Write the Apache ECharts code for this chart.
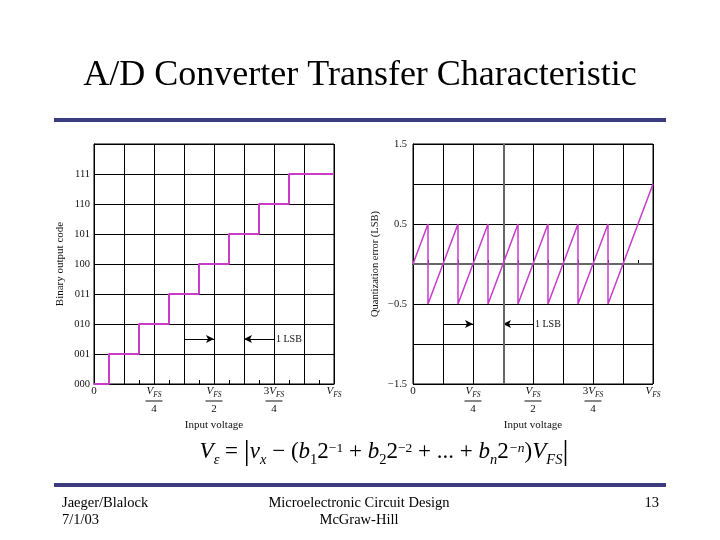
<!DOCTYPE html>
<html>
<head>
<meta charset="utf-8">
<script src="https://cdn.jsdelivr.net/npm/echarts@6/dist/echarts.min.js"></script>
<style>html,body{margin:0;padding:0;background:#fff;}#c{width:720px;height:540px;}</style>
</head>
<body>
<div id="c"></div>
<script>
// ---- data ----
const xTickValues = [0, 0.25, 0.5, 0.75, 1];
const xTickLabels = ['0', 'VFS/4', 'VFS/2', '3VFS/4', 'VFS'];
const codeLabels = ['000', '001', '010', '011', '100', '101', '110', '111'];
const codeStepX = [0, 0.0625, 0.1875, 0.3125, 0.4375, 0.5625, 0.6875, 0.8125, 1];
const codeValues = [0, 1, 2, 3, 4, 5, 6, 7, 7];
const errX = [0, 0.0625, 0.0625, 0.1875, 0.1875, 0.3125, 0.3125, 0.4375, 0.4375, 0.5625, 0.5625, 0.6875, 0.6875, 0.8125, 0.8125, 1];
const errY = [0, 0.5, -0.5, 0.5, -0.5, 0.5, -0.5, 0.5, -0.5, 0.5, -0.5, 0.5, -0.5, 0.5, -0.5, 1.0];
const errTickValues = [-1.5, -0.5, 0.5, 1.5];
const errTickLabels = ['\u22121.5', '\u22120.5', '0.5', '1.5'];
const codeLsbY = 1.5;
const codeLsbArrows = [[0.375, 0.5], [0.75, 0.625]];
const errLsbY = -0.75;
const errLsbArrows = [[0.125, 0.25], [0.5, 0.375]];
const lsbText = '1 LSB';
const errRefX = 0.375;
const errRefY = 0;

// ---- styling ----
const F = '"Liberation Serif", "Times New Roman", serif';
const MAG = '#c83cc8';
const NAVY = '#3b3b80';

const fracRich = {
  v: {fontFamily: F, fontStyle: 'italic', fontSize: 11, lineHeight: 13, verticalAlign: 'top', color: '#111'},
  s: {fontFamily: F, fontStyle: 'italic', fontSize: 7.5, lineHeight: 8, padding: [5, 0, 0, 0], verticalAlign: 'top', color: '#111'},
  n: {fontFamily: F, fontSize: 11, lineHeight: 13, verticalAlign: 'top', color: '#111'},
  bar: {fontSize: 1, width: 17, height: 1, lineHeight: 4, backgroundColor: '#111'},
  d: {fontFamily: F, fontSize: 11, lineHeight: 12, color: '#111'}
};
function xLabel(val) {
  const i = xTickValues.findIndex(t => Math.abs(t - val) < 1e-9);
  if (i < 0) return '';
  const lab = xTickLabels[i];
  if (lab === '0') return '{n|0}';
  const m = lab.match(/^(\d*)VFS(?:\/(\d+))?$/);
  const num = (m[1] ? '{n|' + m[1] + '}' : '') + '{v|V}{s|FS}';
  if (!m[2]) return num;
  return num + '\n{bar| }\n{d|' + m[2] + '}';
}

function xAxisCfg(idx) {
  return {
    type: 'value', gridIndex: idx, min: 0, max: 1, interval: 0.125,
    name: 'Input voltage', nameLocation: 'middle', nameGap: 36,
    nameTextStyle: {fontFamily: F, fontSize: 11, color: '#111'},
    axisLine: {lineStyle: {color: '#000', width: 1}},
    axisTick: {show: true, inside: true, length: 4, lineStyle: {color: '#000'}},
    minorTick: {show: true, splitNumber: 2, length: 4, lineStyle: {color: '#000'}},
    splitLine: {show: true, lineStyle: {color: '#000', width: 1}},
    axisLabel: {margin: 2, formatter: xLabel, rich: fracRich, showMinLabel: true, showMaxLabel: true, hideOverlap: false}
  };
}

function arrowData(pairs, y) {
  return pairs.map((p, i) => [
    Object.assign({coord: [p[0], y], symbol: 'none'},
      i === 1 ? {label: {show: true, position: 'start', formatter: lsbText, distance: 2,
        fontFamily: F, fontSize: 10, color: '#111'}} : {}),
    {coord: [p[1], y], symbol: 'arrow'}
  ]);
}

const chart = echarts.init(document.getElementById('c'), null, {renderer: 'canvas'});
chart.setOption({
  animation: false,
  backgroundColor: '#fff',
  title: {
    text: 'A/D Converter Transfer Characteristic', left: 'center', top: 53,
    textStyle: {fontFamily: F, fontSize: 36, fontWeight: 'normal', color: '#000'}
  },
  grid: [
    {left: 94, top: 144, width: 240, height: 240, show: true, borderColor: '#000', borderWidth: 1, backgroundColor: 'transparent'},
    {left: 413, top: 144, width: 240, height: 240, show: true, borderColor: '#000', borderWidth: 1, backgroundColor: 'transparent'}
  ],
  xAxis: [xAxisCfg(0), xAxisCfg(1)],
  yAxis: [
    {
      type: 'value', gridIndex: 0, min: 0, max: 8, interval: 1,
      name: 'Binary output code', nameLocation: 'middle', nameGap: 28,
      nameTextStyle: {fontFamily: F, fontSize: 11, color: '#111'},
      axisLine: {show: true, lineStyle: {color: '#000'}},
      axisTick: {show: false},
      splitLine: {show: true, lineStyle: {color: '#000', width: 1}},
      axisLabel: {margin: 4, fontFamily: F, fontSize: 10.5, color: '#111',
        formatter: v => (codeLabels[v] !== undefined ? codeLabels[v] : '')}
    },
    {
      type: 'value', gridIndex: 1, min: -1.5, max: 1.5, interval: 0.5,
      name: 'Quantization error (LSB)', nameLocation: 'middle', nameGap: 32,
      nameTextStyle: {fontFamily: F, fontSize: 10.5, color: '#111'},
      axisLine: {show: true, lineStyle: {color: '#000'}},
      axisTick: {show: false},
      splitLine: {show: true, lineStyle: {color: '#000', width: 1}},
      axisLabel: {margin: 6, fontFamily: F, fontSize: 10.5, color: '#111',
        formatter: v => {
          const i = errTickValues.findIndex(t => Math.abs(t - v) < 1e-9);
          return i < 0 ? '' : errTickLabels[i];
        }}
    }
  ],
  series: [
    {
      type: 'line', xAxisIndex: 0, yAxisIndex: 0, step: 'end', showSymbol: false,
      lineStyle: {color: MAG, width: 2}, z: 5,
      data: codeStepX.map((x, i) => [x, codeValues[i]]),
      markLine: {
        silent: true, symbolSize: [6, 8], animation: false,
        lineStyle: {color: '#000', width: 1, type: 'solid'},
        label: {show: false},
        data: arrowData(codeLsbArrows, codeLsbY)
      }
    },
    {
      type: 'line', xAxisIndex: 1, yAxisIndex: 1, showSymbol: false,
      lineStyle: {color: MAG, width: 1.5}, z: 5,
      data: errX.map((x, i) => [x, errY[i]]),
      markLine: {
        silent: true, symbolSize: [6, 8], animation: false,
        lineStyle: {color: '#000', width: 1, type: 'solid'},
        label: {show: false},
        data: arrowData(errLsbArrows, errLsbY)
      }
    },
    {
      type: 'line', xAxisIndex: 1, yAxisIndex: 1, data: [], z: 1,
      markLine: {
        silent: true, symbol: 'none', animation: false,
        lineStyle: {color: '#666', width: 2, type: 'solid'},
        label: {show: false},
        data: [{xAxis: errRefX}, {yAxis: errRefY}]
      }
    }
  ],
  graphic: [
    {type: 'rect', shape: {x: 54, y: 118, width: 612, height: 4}, style: {fill: NAVY}},
    {type: 'rect', shape: {x: 54, y: 483, width: 612, height: 4}, style: {fill: NAVY}},
    {
      type: 'text', x: 384, y: 452,
      style: {
        align: 'center', verticalAlign: 'middle', fill: '#000',
        text: '{i|V}{sub|\u03b5}{r| = }{bar||}{i|v}{sub|x}{r| \u2212 (}{i|b}{subr|1}{r|2}{sup|\u22121}{r| + }{i|b}{subr|2}{r|2}{sup|\u22122}{r| + ... + }{i|b}{sub|n}{r|2}{supi|\u2212n}{r|)}{i|V}{sub|FS}{bar||}',
        rich: {
          i: {fontFamily: F, fontStyle: 'italic', fontSize: 23, lineHeight: 32},
          r: {fontFamily: F, fontSize: 23, lineHeight: 32},
          sub: {fontFamily: F, fontStyle: 'italic', fontSize: 14.5, lineHeight: 15, verticalAlign: 'bottom'},
          subr: {fontFamily: F, fontSize: 14.5, lineHeight: 15, verticalAlign: 'bottom'},
          sup: {fontFamily: F, fontSize: 13.5, lineHeight: 14, padding: [5, 0, 0, 0], verticalAlign: 'top'},
          supi: {fontFamily: F, fontStyle: 'italic', fontSize: 13.5, lineHeight: 14, padding: [5, 0, 0, 0], verticalAlign: 'top'},
          bar: {fontFamily: F, fontSize: 30, lineHeight: 32}
        }
      }
    },
    {type: 'text', x: 62, y: 503, style: {text: 'Jaeger/Blalock', font: '14.5px ' + F, fill: '#000', align: 'left', verticalAlign: 'middle'}},
    {type: 'text', x: 62, y: 520, style: {text: '7/1/03', font: '14.5px ' + F, fill: '#000', align: 'left', verticalAlign: 'middle'}},
    {type: 'text', x: 359, y: 503, style: {text: 'Microelectronic Circuit Design', font: '14.5px ' + F, fill: '#000', align: 'center', verticalAlign: 'middle'}},
    {type: 'text', x: 359, y: 520, style: {text: 'McGraw-Hill', font: '14.5px ' + F, fill: '#000', align: 'center', verticalAlign: 'middle'}},
    {type: 'text', x: 659, y: 503, style: {text: '13', font: '14.5px ' + F, fill: '#000', align: 'right', verticalAlign: 'middle'}}
  ]
});
</script>
</body>
</html>
